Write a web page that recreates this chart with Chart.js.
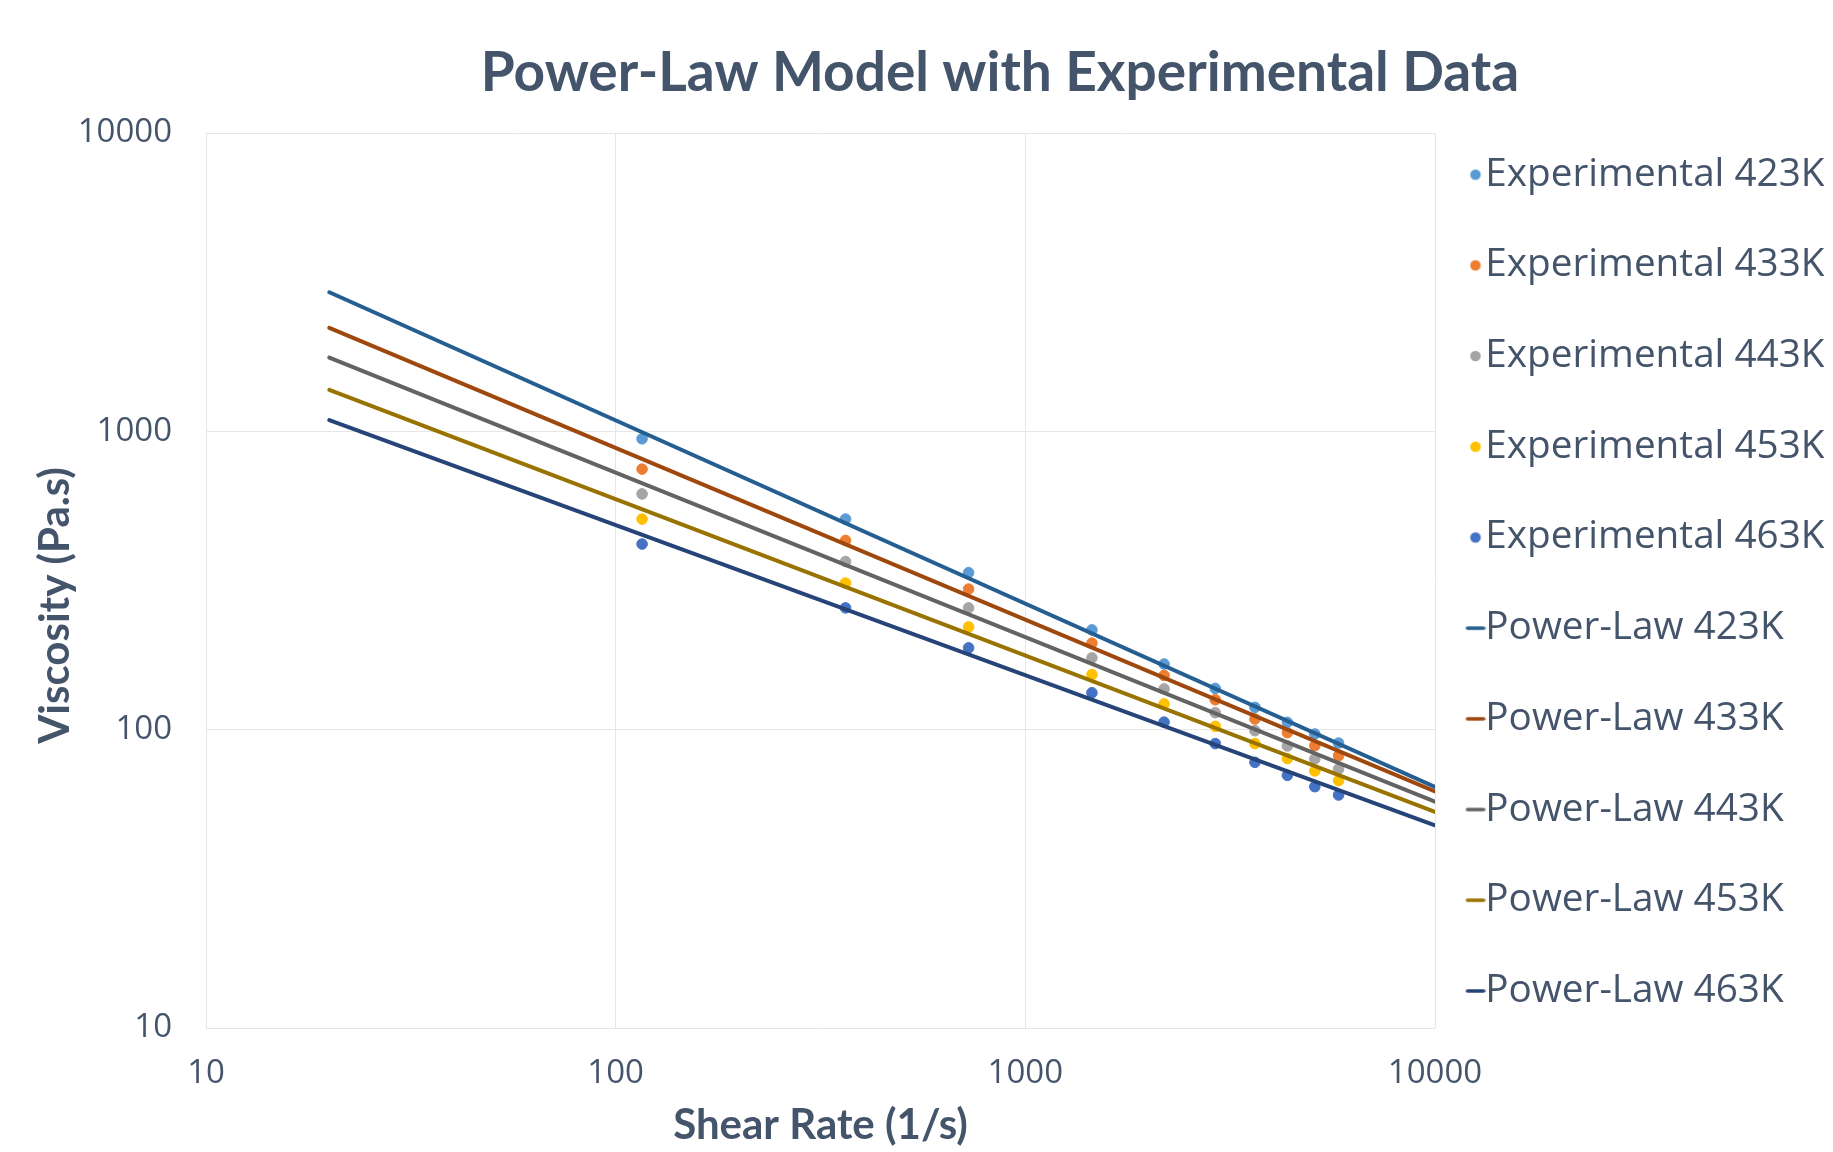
<!DOCTYPE html>
<html>
<head>
<meta charset="utf-8">
<script src="https://cdn.jsdelivr.net/npm/chart.js@4.4.1/dist/chart.umd.min.js"></script>
<style>
  html, body { margin: 0; padding: 0; background: #ffffff; }
  #wrap { width: 1833px; height: 1152px; position: relative; }
</style>
</head>
<body>
<div id="wrap"><canvas id="c"></canvas></div>
<script>
// ---- data ----
const shearRate = [116, 364, 727, 1454, 2181, 2908, 3635, 4362, 5089, 5816];
const exp423 = [944, 508, 336, 216, 166, 137.5, 118.8, 105.8, 96.7, 90.2];
const exp433 = [747, 431, 296, 195, 152, 126, 108.6, 97.7, 88.4, 81.8];
const exp443 = [617, 366, 256, 174, 137, 114, 99.2, 88.2, 79.8, 73.8];
const exp453 = [508, 310, 221, 153, 122, 102.6, 89.8, 80, 72.7, 67.5];
const exp463 = [419, 256, 188, 133, 106, 89.8, 77.7, 70.3, 64.4, 60.4];

const fitShearRate = [20, 10000];
const fit423 = [2926, 64.3];
const fit433 = [2222, 62.1];
const fit443 = [1767, 57.4];
const fit453 = [1377, 53.0];
const fit463 = [1090, 47.8];

const xTicks = [10, 100, 1000, 10000];
const yTicks = [10, 100, 1000, 10000];

const expLabels = ['Experimental 423K', 'Experimental 433K', 'Experimental 443K', 'Experimental 453K', 'Experimental 463K'];
const fitLabels = ['Power-Law 423K', 'Power-Law 433K', 'Power-Law 443K', 'Power-Law 453K', 'Power-Law 463K'];

// ---- styles ----
const expColors = ['#5B9BD5', '#ED7D31', '#A5A5A5', '#FFC000', '#4472C4'];
const fitColors = ['#255E91', '#9E480E', '#636363', '#997300', '#264478'];
const TEXT = '#44546A';

const expSeries = [exp423, exp433, exp443, exp453, exp463];
const fitSeries = [fit423, fit433, fit443, fit453, fit463];

const pts = (xs, ys) => xs.map((x, i) => ({ x: x, y: ys[i] }));

const datasets = [];
expSeries.forEach((ys, i) => {
  datasets.push({
    label: expLabels[i],
    data: pts(shearRate, ys),
    showLine: false,
    pointStyle: 'circle',
    pointRadius: 5.3,
    pointHoverRadius: 5.3,
    pointBackgroundColor: expColors[i],
    pointBorderColor: expColors[i],
    pointBorderWidth: 1,
    backgroundColor: expColors[i],
    borderColor: expColors[i],
    order: 1
  });
});
fitSeries.forEach((ys, i) => {
  datasets.push({
    label: fitLabels[i],
    data: pts(fitShearRate, ys),
    showLine: true,
    pointRadius: 0,
    pointHoverRadius: 0,
    borderColor: fitColors[i],
    backgroundColor: fitColors[i],
    borderWidth: 4,
    borderCapStyle: 'round',
    fill: false,
    order: 0
  });
});

// legend icons (small canvases)
function circleIcon(color) {
  const c = document.createElement('canvas');
  c.width = 40; c.height = 20;
  const g = c.getContext('2d');
  g.fillStyle = color;
  g.beginPath(); g.arc(30, 10, 5.3, 0, Math.PI * 2); g.fill();
  return c;
}
function lineIcon(color) {
  const c = document.createElement('canvas');
  c.width = 40; c.height = 20;
  const g = c.getContext('2d');
  g.strokeStyle = color; g.lineWidth = 3.5; g.lineCap = 'round';
  g.beginPath(); g.moveTo(22, 10); g.lineTo(38, 10); g.stroke();
  return c;
}
const legendIcons = expColors.map(circleIcon).concat(fitColors.map(lineIcon));

const LEGEND_X = 1465;      // cursor x of legend items
const LEGEND_Y0 = 155.3;    // top of first legend item
const TITLE_CX = 1000;      // centre of chart title
const YTITLE_SHIFT = 25;

const tweak = {
  id: 'tweak',
  afterLayout(chart) {
    const lg = chart.legend;
    if (lg) {
      const pad = lg.options.labels.padding;
      lg.left = LEGEND_X - pad;
      lg.top = LEGEND_Y0 - pad;
    }
    const t = chart.titleBlock;
    if (t) { t.left = 2 * TITLE_CX - t.right; }
    const ys = chart.scales.y;
    if (ys && !ys._titlePatched) {
      ys._titlePatched = true;
      ys.drawTitle = function () {
        const c = this.ctx;
        c.save();
        c.translate(0, YTITLE_SHIFT);
        Object.getPrototypeOf(this).drawTitle.call(this);
        c.restore();
      };
    }
  }
};

new Chart(document.getElementById('c'), {
  type: 'scatter',
  data: { datasets: datasets },
  options: {
    responsive: true,
    maintainAspectRatio: false,
    animation: false,
    layout: { padding: 0 },
    plugins: {
      title: {
        display: true,
        text: 'Power-Law Model with Experimental Data',
        color: TEXT,
        font: { family: 'Lato', size: 55, weight: 'bold' },
        padding: { top: 40, bottom: 27 }
      },
      legend: {
        display: true,
        position: 'right',
        align: 'start',
        maxWidth: 398,
        labels: {
          usePointStyle: true,
          boxWidth: 1,
          boxHeight: 1,
          padding: 52,
          color: TEXT,
          font: { family: 'Open Sans', size: 38.7 },
          sort: (a, b) => a.datasetIndex - b.datasetIndex,
          generateLabels(chart) {
            const items = Chart.defaults.plugins.legend.labels.generateLabels(chart);
            items.forEach((it) => { it.pointStyle = legendIcons[it.datasetIndex]; });
            return items;
          }
        }
      },
      tooltip: { enabled: false }
    },
    scales: {
      x: {
        type: 'logarithmic',
        min: 10,
        max: 10000,
        afterBuildTicks(scale) { scale.ticks = xTicks.map(v => ({ value: v })); },
        afterFit(scale) { scale.height = 124; },
        grid: { color: '#E6E6E6', lineWidth: 1, drawTicks: false },
        border: { display: false },
        ticks: {
          color: TEXT,
          font: { family: 'Open Sans', size: 33 },
          padding: 26,
          maxRotation: 0,
          callback: (v) => String(v)
        },
        title: {
          display: true,
          text: 'Shear Rate (1/s)',
          color: TEXT,
          font: { family: 'Lato', size: 42, weight: 'bold' },
          padding: { top: 0, bottom: 1 }
        }
      },
      y: {
        type: 'logarithmic',
        min: 10,
        max: 10000,
        afterBuildTicks(scale) { scale.ticks = yTicks.map(v => ({ value: v })); },
        afterFit(scale) { scale.width = 206; },
        grid: { color: '#E6E6E6', lineWidth: 1, drawTicks: false },
        border: { display: false },
        ticks: {
          color: TEXT,
          font: { family: 'Open Sans', size: 33 },
          padding: 34,
          callback: (v) => String(v)
        },
        title: {
          display: true,
          text: 'Viscosity (Pa.s)',
          color: TEXT,
          font: { family: 'Lato', size: 42, weight: 'bold' },
          padding: { top: 30, bottom: 0 }
        }
      }
    }
  },
  plugins: [tweak]
});
</script>
</body>
</html>
